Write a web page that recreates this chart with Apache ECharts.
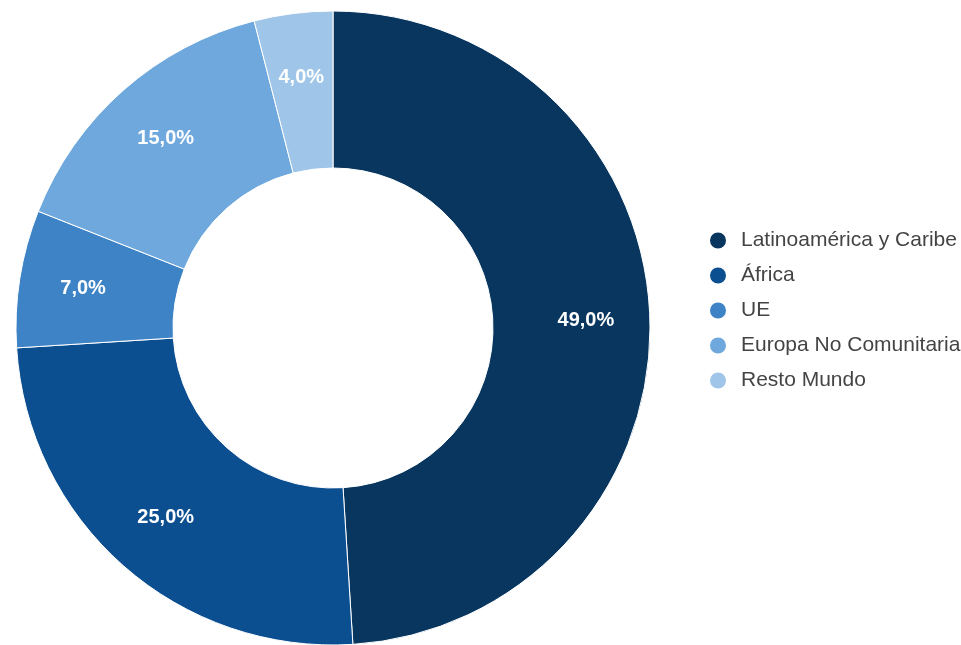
<!DOCTYPE html>
<html>
<head>
<meta charset="utf-8">
<script src="https://cdn.jsdelivr.net/npm/echarts@6/dist/echarts.min.js"></script>
<style>html,body{margin:0;padding:0;background:#fff;}#c{width:961px;height:645px;}</style>
</head>
<body>
<div id="c"></div>
<script>
const categories = ['Latinoamérica y Caribe', 'África', 'UE', 'Europa No Comunitaria', 'Resto Mundo'];
const values = [49.0, 25.0, 7.0, 15.0, 4.0];
const colors = ['#08365f', '#0c4f91', '#3d83c6', '#6fa8dc', '#9fc5e8'];

const data = categories.map((c, i) => ({ name: c, value: values[i], itemStyle: { color: colors[i] } }));
const fmt = p => p.value.toFixed(1).replace('.', ',') + '%';

const chart = echarts.init(document.getElementById('c'));
chart.setOption({
  animation: false,
  legend: {
    orient: 'vertical',
    left: 703,
    top: 225,
    icon: 'circle',
    itemWidth: 36,
    itemHeight: 18,
    itemGap: 14,
    textStyle: { fontFamily: 'Liberation Sans, Arial, sans-serif', fontSize: 21, color: '#444' },
    data: categories
  },
  series: [
    {
      type: 'pie',
      center: [333, 328],
      radius: [160, 317],
      startAngle: 90,
      clockwise: true,
      label: { show: false },
      labelLine: { show: false },
      itemStyle: { borderColor: '#ffffff', borderWidth: 1 },
      data: data
    },
    {
      type: 'pie',
      center: [333, 328],
      radius: [183, 317],
      startAngle: 90,
      clockwise: true,
      silent: true,
      legendHoverLink: false,
      itemStyle: { color: 'rgba(0,0,0,0)' },
      label: {
        show: true,
        position: 'inside',
        formatter: fmt,
        color: '#ffffff',
        fontWeight: 'bold',
        fontSize: 20,
        fontFamily: 'Liberation Sans, Arial, sans-serif'
      },
      labelLine: { show: false },
      data: categories.map((c, i) => ({ name: c + ' ', value: values[i] }))
    }
  ]
});
</script>
</body>
</html>
